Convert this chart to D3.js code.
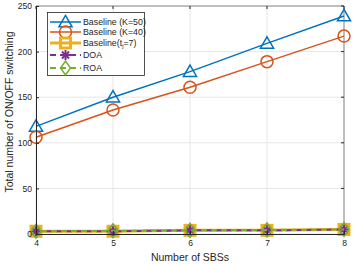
<!DOCTYPE html>
<html>
  <head>
    <meta charset="utf-8">
    <script type="text/javascript" src="https://cdn.jsdelivr.net/npm/d3@7"></script>
    <style>
      body { margin: 0; background: #fff; }
      text { font-family: "Liberation Sans", Arial, sans-serif; }
    </style>
  </head>
  <body>
    <script type="text/javascript">
      // Chart data
      var sbs = [4, 5, 6, 7, 8];
      var baseK50 = [118, 150, 178, 209, 239];
      var baseK40 = [106, 136, 161, 189, 217];
      var baseTj = [3, 3, 4, 4, 5];
      var doa = [3, 3, 4, 4, 5];
      var roa = [3, 3.5, 4, 4.5, 5];
      var yTicks = [0, 50, 100, 150, 200, 250];
      var names = ["Baseline (K=50)", "Baseline (K=40)", "Baseline(t_j=7)", "DOA", "ROA"];

      var width = 354, height = 264;
      var plotL = 36, plotR = 344, plotT = 6, plotB = 234;

      var svg = d3.select("body").append("svg")
                  .attr("width", width)
                  .attr("height", height);

      var x = d3.scaleLinear().domain([4, 8]).range([plotL, plotR]);
      var y = d3.scaleLinear().domain([0, 250]).range([plotB, plotT]);

      // Grid
      svg.append("g").selectAll("line").data(sbs).enter().append("line")
         .attr("x1", function(d) { return x(d); }).attr("x2", function(d) { return x(d); })
         .attr("y1", plotT).attr("y2", plotB)
         .attr("stroke", "#e6e6e6").attr("stroke-width", 1);
      svg.append("g").selectAll("line").data(yTicks).enter().append("line")
         .attr("y1", function(d) { return y(d); }).attr("y2", function(d) { return y(d); })
         .attr("x1", plotL).attr("x2", plotR)
         .attr("stroke", "#e6e6e6").attr("stroke-width", 1);

      // Box top/right with inner ticks
      svg.append("line").attr("x1", plotL).attr("x2", plotR).attr("y1", plotT).attr("y2", plotT)
         .attr("stroke", "#262626").attr("stroke-opacity", 0.5);
      svg.append("line").attr("x1", plotR).attr("x2", plotR).attr("y1", plotT).attr("y2", plotB)
         .attr("stroke", "#262626").attr("stroke-opacity", 0.5);
      svg.append("g").selectAll("line").data(sbs).enter().append("line")
         .attr("x1", function(d) { return x(d); }).attr("x2", function(d) { return x(d); })
         .attr("y1", plotT).attr("y2", plotT + 3).attr("stroke", "#262626");
      svg.append("g").selectAll("line").data(yTicks).enter().append("line")
         .attr("y1", function(d) { return y(d); }).attr("y2", function(d) { return y(d); })
         .attr("x1", plotR - 3).attr("x2", plotR).attr("stroke", "#262626");

      // Labels
      svg.append("text").text("Number of SBSs")
         .attr("x", 190).attr("y", 261).attr("text-anchor", "middle")
         .attr("font-size", 10.5).attr("fill", "#262626");
      svg.append("text").text("Total number of ON/OFF switching")
         .attr("transform", "translate(13,112) rotate(-90)")
         .attr("text-anchor", "middle")
         .attr("font-size", 10.5).attr("fill", "#262626");

      // Marker drawing
      function marker(g, type, color, cx, cy) {
        if (type === "tri") {
          g.append("path").attr("d", d3.symbol().type(d3.symbolTriangle).size(75)())
           .attr("transform", "translate(" + cx + "," + (cy + 1) + ")")
           .attr("fill", "none").attr("stroke", color).attr("stroke-width", 1.5);
        } else if (type === "circ") {
          g.append("circle").attr("cx", cx).attr("cy", cy).attr("r", 6)
           .attr("fill", "none").attr("stroke", color).attr("stroke-width", 1.5);
        } else if (type === "sq") {
          g.append("rect").attr("x", cx - 5).attr("y", cy - 5).attr("width", 10).attr("height", 10)
           .attr("fill", "none").attr("stroke", color).attr("stroke-width", 3);
        } else if (type === "ast") {
          var r = 5;
          [0, 45, 90, 135].forEach(function(a) {
            var rad = a * Math.PI / 180;
            g.append("line")
             .attr("x1", cx - r * Math.cos(rad)).attr("y1", cy - r * Math.sin(rad))
             .attr("x2", cx + r * Math.cos(rad)).attr("y2", cy + r * Math.sin(rad))
             .attr("stroke", color).attr("stroke-width", 2);
          });
        } else if (type === "dia") {
          g.append("path").attr("d", "M" + cx + "," + (cy - 7) + "L" + (cx + 5) + "," + cy +
                                     "L" + cx + "," + (cy + 7) + "L" + (cx - 5) + "," + cy + "Z")
           .attr("fill", "none").attr("stroke", color).attr("stroke-width", 1.5);
        }
      }

      var series = [
        { vals: baseK50, color: "#0072BD", type: "tri", width: 1.5, dash: null },
        { vals: baseK40, color: "#D95319", type: "circ", width: 1.5, dash: null },
        { vals: baseTj, color: "#EDB120", type: "sq", width: 3, dash: null },
        { vals: doa, color: "#7E2F8E", type: "ast", width: 2, dash: "6,4" },
        { vals: roa, color: "#77AC30", type: "dia", width: 2, dash: "6,4" }
      ];

      var line = d3.line()
                   .x(function(d, i) { return x(sbs[i]); })
                   .y(function(d) { return y(d); });

      series.forEach(function(s, k) {
        var g = svg.append("g");
        g.append("path").attr("d", line(s.vals))
         .attr("fill", "none").attr("stroke", s.color).attr("stroke-width", s.width)
         .attr("stroke-dasharray", s.dash)
         .attr("stroke-dashoffset", k === 4 ? 5 : 0);
        s.vals.forEach(function(v, i) { marker(g, s.type, s.color, x(sbs[i]), y(v)); });
      });

      // Axes (drawn over the lines like MATLAB)
      var xAxis = d3.axisBottom(x).tickValues(sbs).tickSize(-3).tickFormat(d3.format("d"));
      var gx = svg.append("g").attr("transform", "translate(0," + plotB + ")").call(xAxis);
      var yAxis = d3.axisLeft(y).tickValues(yTicks).tickSize(-3);
      var gy = svg.append("g").attr("transform", "translate(" + plotL + ",0)").call(yAxis);
      [gx, gy].forEach(function(g) {
        g.select(".domain").attr("stroke", "#262626");
        g.selectAll(".tick line").attr("stroke", "#262626");
        g.selectAll(".tick text").attr("fill", "#262626").attr("font-size", 8.5);
      });
      gx.selectAll(".tick text").attr("y", 5).attr("dy", "0.8em");
      gy.selectAll(".tick text").attr("x", -4);

      // Legend
      var leg = svg.append("g");
      leg.append("rect").attr("x", 47.5).attr("y", 12.5).attr("width", 97).attr("height", 63)
         .attr("fill", "#fff").attr("stroke", "#262626").attr("stroke-width", 0.8);
      var legY = [22, 32, 43, 55, 68];
      series.forEach(function(s, k) {
        var ly = legY[k];
        leg.append("line").attr("x1", 50).attr("x2", 81).attr("y1", ly).attr("y2", ly)
           .attr("stroke", s.color).attr("stroke-width", s.width).attr("stroke-dasharray", s.dash);
        marker(leg, s.type, s.color, 65.5, ly);
        var t = leg.append("text").attr("x", 83).attr("y", ly + 3)
                   .attr("font-size", 8.8).attr("fill", "#262626");
        if (k === 2) {
          t.append("tspan").text("Baseline(t");
          t.append("tspan").text("j").attr("font-size", 6).attr("dy", 2);
          t.append("tspan").text("=7)").attr("dy", -2);
        } else {
          t.text(names[k]);
        }
      });
    </script>
  </body>
</html>
